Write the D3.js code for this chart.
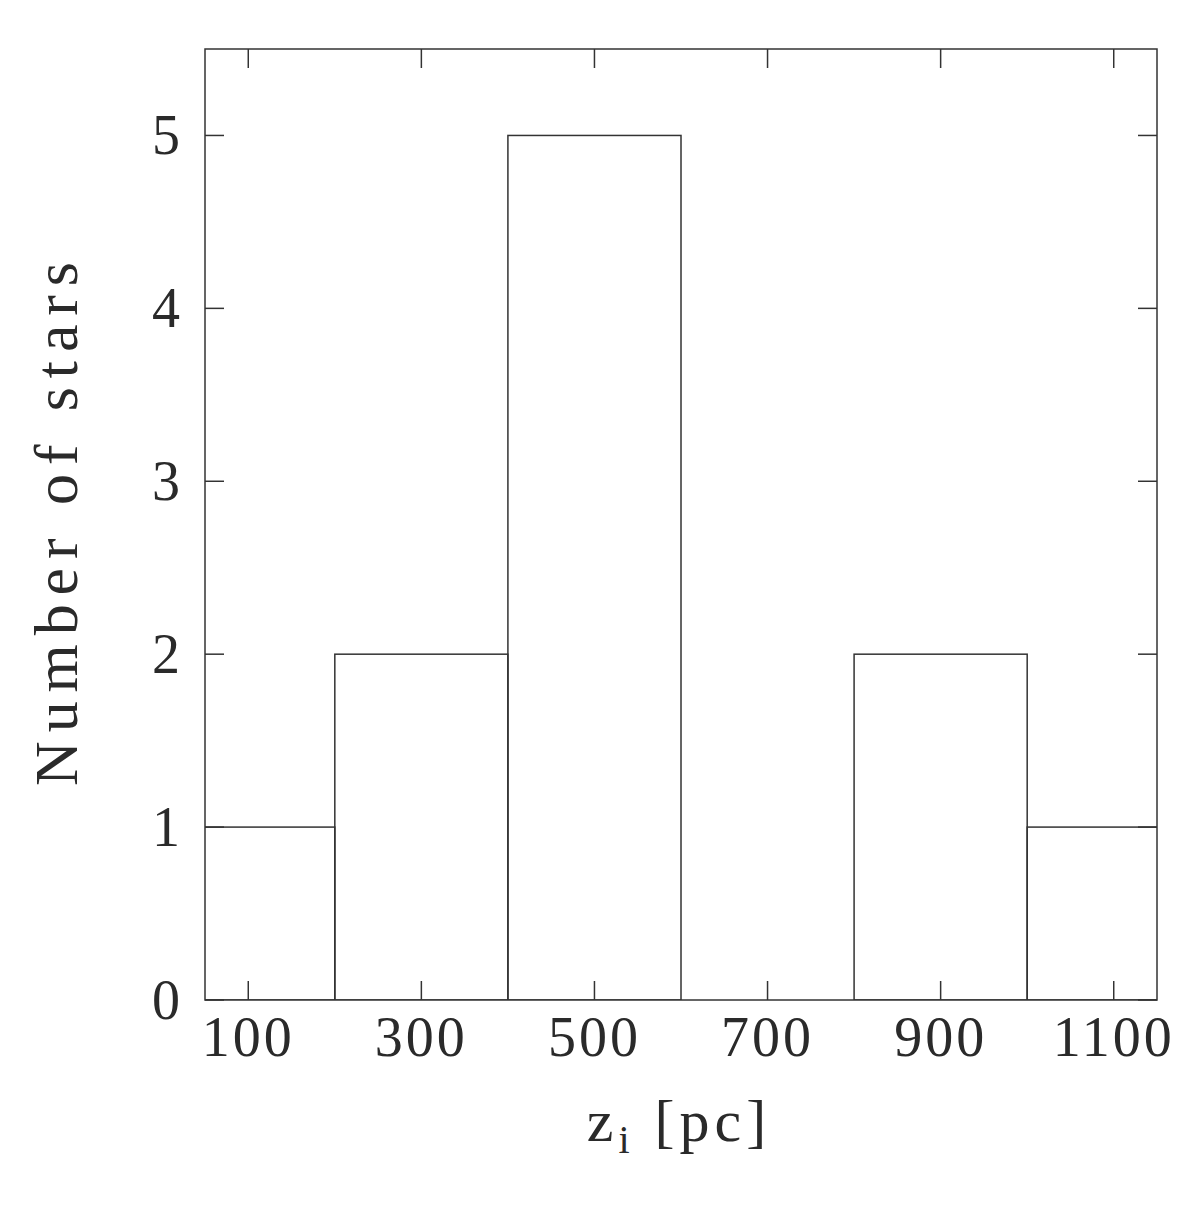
<!DOCTYPE html>
<html><head><meta charset="utf-8">
<script src="https://cdn.jsdelivr.net/npm/d3@7"></script>
<style>body{margin:0;background:#fff}</style>
</head><body>
<svg id="c" width="1200" height="1206"></svg>
<script>
const binEdges = [0, 200, 400, 600, 800, 1000, 1200];
const counts = [1, 2, 5, 0, 2, 1];
const xTicks = [100, 300, 500, 700, 900, 1100];
const yTicks = [0, 1, 2, 3, 4, 5];
const xLabel = "z";
const xSub = "i";
const xUnit = "[pc]";
const yLabel = "Number of stars";

const svg = d3.select("#c");
const L = 205, R = 1157, T = 49, B = 1000;
const x = d3.scaleLinear().domain([50, 1150]).range([L, R]);
const y = d3.scaleLinear().domain([0, 5.5]).range([B, T]);
const col = "#333";
const tcol = "#2a2a2a";
const font = "Liberation Serif, DejaVu Serif, serif";

svg.append("clipPath").attr("id","clip").append("rect")
  .attr("x", L).attr("y", T).attr("width", R-L).attr("height", B-T);

const bins = counts.map((c,i)=>({x0:binEdges[i], x1:binEdges[i+1], c}));
svg.append("g").attr("clip-path","url(#clip)").selectAll("rect").data(bins).join("rect")
  .attr("x", d=>x(d.x0)).attr("width", d=>x(d.x1)-x(d.x0))
  .attr("y", d=>y(d.c)).attr("height", d=>y(0)-y(d.c))
  .attr("fill","none").attr("stroke", col).attr("stroke-width", 1.5);

// frame
svg.append("rect").attr("x",L).attr("y",T).attr("width",R-L).attr("height",B-T)
  .attr("fill","none").attr("stroke",col).attr("stroke-width",1.5);

const tl = 19;
const g = svg.append("g").attr("stroke", col).attr("stroke-width", 1.5);
xTicks.forEach(v=>{
  g.append("line").attr("x1",x(v)).attr("x2",x(v)).attr("y1",B).attr("y2",B-tl);
  g.append("line").attr("x1",x(v)).attr("x2",x(v)).attr("y1",T).attr("y2",T+tl);
});
yTicks.forEach(v=>{
  g.append("line").attr("y1",y(v)).attr("y2",y(v)).attr("x1",L).attr("x2",L+tl);
  g.append("line").attr("y1",y(v)).attr("y2",y(v)).attr("x1",R).attr("x2",R-tl);
});

const fs = 56;
svg.append("g").selectAll("text").data(xTicks).join("text")
  .attr("x", d=>x(d)).attr("y", 1056).attr("text-anchor","middle")
  .attr("font-family", font).attr("font-size", fs).attr("letter-spacing", 3)
  .attr("fill", tcol).text(d=>d);
svg.append("g").selectAll("text").data(yTicks).join("text")
  .attr("x", 180).attr("y", d=>y(d)+19).attr("text-anchor","end")
  .attr("font-family", font).attr("font-size", fs).attr("transform-origin","180px 0")
  .attr("fill", tcol).text(d=>d);

// x label
const xl = svg.append("text").attr("x", 679).attr("y", 1141).attr("text-anchor","middle")
  .attr("font-family", font).attr("font-size", 60).attr("fill", tcol).attr("letter-spacing", 5);
xl.append("tspan").attr("fill", tcol).text(xLabel);
xl.append("tspan").attr("fill", tcol).attr("font-size", 40).attr("dy", 12).text(xSub);
xl.append("tspan").attr("fill", tcol).attr("dy", -12).text("\u00a0" + xUnit);

// y label
svg.append("text").attr("transform","translate(77,524) rotate(-90)")
  .attr("text-anchor","middle").attr("font-family", font).attr("font-size", 62)
  .attr("fill", tcol).attr("textLength", 524).attr("lengthAdjust","spacing").text(yLabel);
</script>
</body></html>
